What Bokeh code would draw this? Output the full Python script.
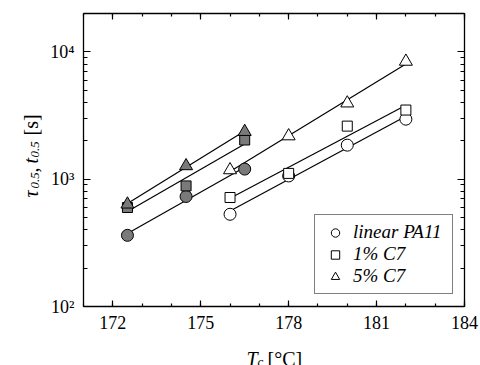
import numpy as np
from bokeh.plotting import figure
from bokeh.models import (LinearAxis, LogAxis, FixedTicker, LogTicker, Label,
                          Legend, LegendItem, Range1d)
from bokeh.embed import file_html
from bokeh.resources import INLINE

# ---- data ----
tc_filled = [172.5, 174.5, 176.5]
pa11_filled = [362, 731, 1200]
c7_1_filled = [599, 885, 2030]
c7_5_filled = [635, 1270, 2360]

tc_open = [176, 178, 180, 182]
pa11_open = [530, 1060, 1850, 2960]
c7_1_open = [718, 1110, 2610, 3490]
c7_5_open = [1180, 2180, 3950, 8400]

x_major = [172, 175, 178, 181, 184]
x_minor = list(range(171, 185))
y_tick_labels = {100: "10²", 1000: "10³", 10000: "10⁴"}
legend_labels = ["linear PA11", "1% C7", "5% C7"]

# axis box limits
X0, X1 = 171, 184
Y0, Y1 = 100, 20000

# ---- layout (pixels) ----
W, H = 480, 365
BOX_L, BOX_R, BOX_T, BOX_B = 83, 464, 13, 306
SERIF = "Liberation Serif"
GRAY = "#7a7a7a"

# the frame fills the canvas; the axis box is drawn with fixed-location axes
ppx = (BOX_R - BOX_L) / (X1 - X0)
ppd = (BOX_B - BOX_T) / np.log10(Y1 / Y0)
xr = Range1d(X0 - BOX_L / ppx, X1 + (W - BOX_R) / ppx)
yr = Range1d(Y0 / 10 ** ((H - BOX_B) / ppd), Y1 * 10 ** (BOX_T / ppd))

p = figure(width=W, height=H, y_axis_type="log", x_range=xr, y_range=yr,
           x_axis_location=None, y_axis_location=None,
           output_backend="svg", toolbar_location=None,
           min_border_left=0, min_border_right=0,
           min_border_top=0, min_border_bottom=0)
p.xgrid.visible = False
p.ygrid.visible = False
p.outline_line_color = None
p.background_fill_color = "white"
p.border_fill_color = "white"


def style_common(ax, labels):
    ax.major_tick_out = 0
    ax.minor_tick_out = 0
    ax.axis_line_color = "black"
    ax.axis_line_width = 1.3
    ax.major_tick_line_width = 1.2
    ax.minor_tick_line_width = 1.2
    ax.major_label_text_font = SERIF
    if labels:
        ax.major_label_text_font_size = "18px"
        ax.major_label_text_color = "black"
        ax.major_label_standoff = 9
    else:
        ax.major_label_text_font_size = "1px"
        ax.major_label_text_alpha = 0
        ax.major_label_standoff = 0


def x_axis(loc, side, labels):
    ax = LinearAxis(fixed_location=loc, bounds=(X0, X1))
    ax.ticker = FixedTicker(ticks=x_major, minor_ticks=x_minor)
    ax.major_tick_in = 6
    ax.minor_tick_in = 3
    style_common(ax, labels)
    p.add_layout(ax, side)


def y_axis(loc, side, labels):
    ax = LogAxis(fixed_location=loc, bounds=(Y0, Y1))
    ax.ticker = LogTicker(num_minor_ticks=10)
    ax.major_tick_in = 7
    ax.minor_tick_in = 4
    style_common(ax, labels)
    if labels:
        ax.major_label_overrides = y_tick_labels
    p.add_layout(ax, side)


x_axis(Y0, "below", True)
x_axis(Y1, "above", False)
y_axis(X0, "left", True)
y_axis(X1, "right", False)


def fit(xs, ys):
    k, b = np.polyfit(xs, np.log10(ys), 1)
    xe = [xs[0], xs[-1]]
    return xe, [10 ** (k * x + b) for x in xe]


series = [
    (tc_filled, pa11_filled, "circle", 12, GRAY),
    (tc_filled, c7_1_filled, "square", 10, GRAY),
    (tc_filled, c7_5_filled, "triangle", 13, GRAY),
    (tc_open, pa11_open, "circle", 12, "white"),
    (tc_open, c7_1_open, "square", 10, "white"),
    (tc_open, c7_5_open, "triangle", 13, "white"),
]
for xs, ys, _, _, _ in series:
    lx, ly = fit(xs, ys)
    p.line(lx, ly, line_color="black", line_width=1.2)

open_renderers = []
for xs, ys, marker, size, fill in series:
    r = p.scatter(xs, ys, marker=marker, size=size, fill_color=fill,
                  line_color="black", line_width=1)
    if fill == "white":
        open_renderers.append(r)

legend = Legend(items=[LegendItem(label=l, renderers=[r])
                       for l, r in zip(legend_labels, open_renderers)],
                location=(314, H - 294))
legend.label_text_font = SERIF
legend.label_text_font_style = "italic"
legend.label_text_font_size = "19px"
legend.label_text_color = "black"
legend.border_line_color = "black"
legend.border_line_width = 1
legend.background_fill_alpha = 1
legend.padding = 6
legend.spacing = 0
legend.margin = 0
legend.glyph_width = 28
legend.glyph_height = 21
legend.label_height = 21
legend.label_width = 93
legend.label_standoff = 4
p.add_layout(legend)


def lab(text, x_img, y_img, size, style="normal", angle=0.0):
    p.add_layout(Label(x=x_img, y=H - y_img, x_units="screen", y_units="screen",
                       text=text, text_font=SERIF, text_font_size=size,
                       text_font_style=style, text_color="black",
                       text_align="left", text_baseline="alphabetic",
                       angle=angle))


# x-axis label: T_c [°C]
lab("T", 246, 358, "20px", "italic")
lab("c", 257, 361, "13px", "italic")
lab("[°C]", 267, 358, "20px")

# y-axis label: tau_0.5, t_0.5 [s]
A = np.pi / 2
lab("τ", 30, 197, "20px", "italic", A)
lab("0.5", 34, 188, "13px", "italic", A)
lab(",", 30, 172, "20px", "normal", A)
lab("t", 30, 163, "20px", "italic", A)
lab("0.5", 34, 157, "13px", "italic", A)
lab("[s]", 30, 135, "20px", "normal", A)

open("out.html", "w").write(file_html(p, INLINE))
